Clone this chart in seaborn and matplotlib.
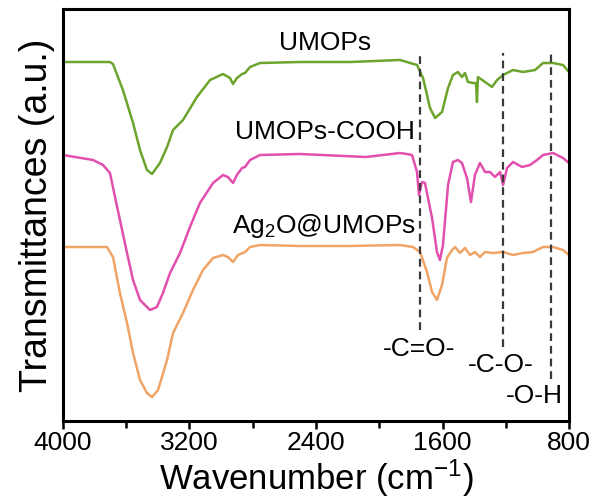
import numpy as np
import pandas as pd
import matplotlib
matplotlib.use("Agg")
import matplotlib.pyplot as plt
import seaborn as sns

# ---- data (wavenumber in cm^-1, transmittance in a.u. incl. vertical offset) ----
umops_wn = [4000, 3703, 3684, 3621, 3557, 3513, 3469, 3437, 3387, 3342, 3304, 3241,
            3153, 3070, 2988, 2944, 2925, 2900, 2868, 2849, 2817, 2754, 2501, 2185,
            1869, 1761, 1723, 1679, 1647, 1603, 1565, 1534, 1502, 1477, 1458, 1439,
            1407, 1388, 1382, 1376, 1331, 1287, 1255, 1217, 1154, 1091, 1015, 964,
            901, 838, 800]
umops_t = [359, 359, 357, 331, 298, 271, 251, 247, 258, 274, 291, 301,
           324, 341, 347, 343, 337, 343, 347, 348, 354, 358, 359, 359,
           361, 356, 343, 313, 303, 309, 333, 346, 349, 344, 348, 339,
           338, 338, 319, 344, 339, 334, 341, 346, 351, 349, 351, 358,
           358, 356, 349]

cooh_wn = [4000, 3810, 3747, 3703, 3671, 3640, 3595, 3557, 3513, 3450, 3406, 3368,
           3323, 3260, 3197, 3134, 3051, 2988, 2957, 2925, 2900, 2868, 2849, 2817,
           2754, 2501, 2084, 1869, 1825, 1793, 1761, 1749, 1730, 1711, 1666, 1635,
           1616, 1597, 1565, 1534, 1502, 1477, 1445, 1420, 1395, 1363, 1331, 1300,
           1268, 1236, 1217, 1192, 1154, 1097, 1047, 1002, 964, 901, 838, 800]
cooh_t = [266, 261, 256, 248, 224, 201, 168, 141, 121, 111, 114, 128,
          148, 168, 194, 218, 238, 246, 244, 238, 246, 253, 254, 261,
          266, 267, 264, 268, 267, 266, 249, 226, 239, 238, 203, 169,
          161, 176, 236, 259, 261, 258, 243, 219, 246, 258, 249, 249,
          244, 249, 236, 253, 259, 254, 256, 261, 266, 268, 263, 258]

ag_wn = [4000, 3722, 3684, 3640, 3595, 3557, 3513, 3469, 3437, 3399, 3342, 3304,
         3241, 3178, 3115, 3051, 2988, 2957, 2925, 2893, 2849, 2817, 2754, 2501,
         2185, 1869, 1787, 1742, 1698, 1666, 1635, 1603, 1572, 1540, 1521, 1489,
         1458, 1426, 1395, 1363, 1331, 1281, 1217, 1154, 1091, 1028, 964, 901,
         838, 800]
ag_t = [174, 174, 164, 128, 98, 68, 41, 28, 24, 31, 61, 88,
        108, 131, 151, 163, 166, 164, 159, 166, 169, 174, 176, 175,
        175, 176, 174, 169, 149, 129, 121, 136, 163, 171, 174, 168,
        173, 166, 169, 164, 169, 168, 169, 166, 168, 169, 174, 174,
        171, 166]

series_names = ["UMOPs", "UMOPs-COOH", "Ag$_2$O@UMOPs"]
series_colors = ["#6da42e", "#e24fae", "#f0a466"]

# dashed marker lines: position, bottom, label, label position
band_pos = [1740, 1215, 915]
band_bottom = [91, 74, 42]
band_labels = ["-C=O-", "-C-O-", "-O-H"]
band_label_x = [1749, 1230, 1021]
band_label_y = [72, 56, 25]

curve_label_x = [2343, 2345, 2350]
curve_label_y = [378, 289, 195]

xticks = [4000, 3200, 2400, 1600, 800]
minor_xticks = [3600, 2800, 2000, 1200]

# ---- build long-form table ----
frames = []
for name, wn, t in zip(series_names,
                       [umops_wn, cooh_wn, ag_wn],
                       [umops_t, cooh_t, ag_t]):
    frames.append(pd.DataFrame({"wn": wn, "t": t, "sample": name}))
df = pd.concat(frames, ignore_index=True)

sns.set_style("ticks")
plt.rcParams["font.family"] = ["Liberation Sans", "DejaVu Sans"]
plt.rcParams["mathtext.fontset"] = "custom"
plt.rcParams["mathtext.rm"] = "Liberation Sans"
plt.rcParams["mathtext.it"] = "Liberation Sans:italic"
plt.rcParams["mathtext.default"] = "regular"
plt.rcParams["text.color"] = "black"
plt.rcParams["axes.labelcolor"] = "black"
plt.rcParams["xtick.color"] = "black"
plt.rcParams["ytick.color"] = "black"

fig = plt.figure(figsize=(5.95, 4.99), dpi=100)
ax = fig.add_axes([63 / 595, 1 - 421 / 499, 506 / 595, 412 / 499])

sns.lineplot(data=df, x="wn", y="t", hue="sample", palette=series_colors,
             hue_order=series_names, estimator=None, sort=True, lw=1.8,
             legend=False, ax=ax)

for xpos, bot in zip(band_pos, band_bottom):
    ax.plot([xpos, xpos], [bot, 368], ls=(0, (3.5, 2.2)), color="#3a3a3a", lw=1.6)

for lab, lx, ly in zip(band_labels, band_label_x, band_label_y):
    ax.text(lx, ly, lab, ha="center", va="center", fontsize=19, color="black")

for lab, lx, ly in zip(series_names, curve_label_x, curve_label_y):
    ax.text(lx, ly, lab, ha="center", va="center", fontsize=19, color="black")

ax.set_xlim(4000, 800)
ax.set_ylim(0, 412)
ax.set_xticks(xticks)
ax.set_xticks(minor_xticks, minor=True)
ax.set_xticklabels([str(v) for v in xticks])
ax.set_yticks([])
ax.tick_params(axis="x", which="major", direction="out", length=6, width=1.8,
               labelsize=19, pad=1, colors="black")
ax.tick_params(axis="x", which="minor", direction="out", length=5, width=1.8,
               colors="black")
for sp in ax.spines.values():
    sp.set_visible(True)
    sp.set_linewidth(2.2)
    sp.set_color("black")

ax.set_xlabel("Wavenumber (cm$^{-1}$)", fontsize=25, labelpad=2, color="black")
ax.set_ylabel("Transmittances (a.u.)", fontsize=27, labelpad=6, color="black")

fig.savefig("out.png", dpi=100)
